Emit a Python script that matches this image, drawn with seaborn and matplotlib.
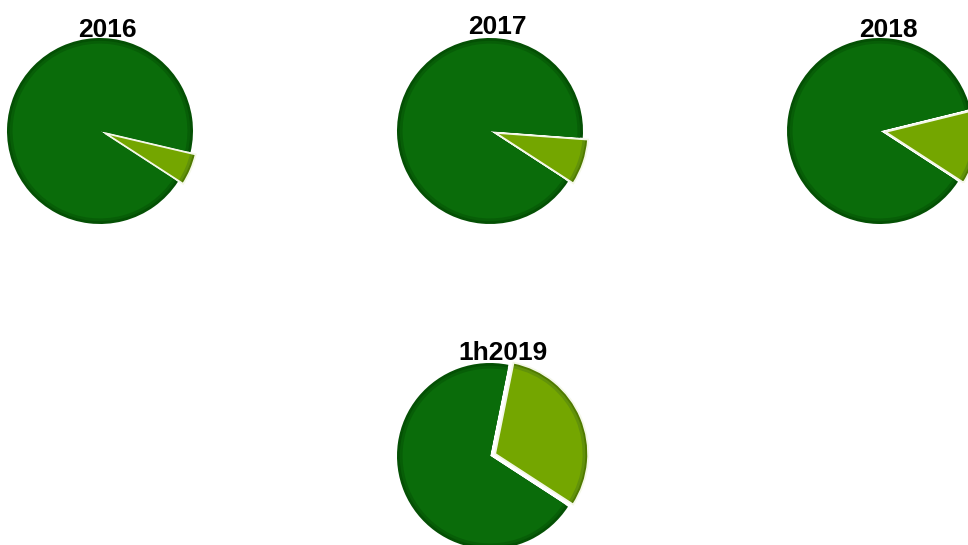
import matplotlib.pyplot as plt
import seaborn as sns

sns.set_theme(style="white")
plt.rcParams["font.family"] = ["Liberation Sans", "DejaVu Sans"]

# share of each period: [small segment, rest]
periods = ["2016", "2017", "2018", "1h2019"]
small_share = [5.5, 8.0, 13.0, 31.0]
rest_share = [94.5, 92.0, 87.0, 69.0]

colors = ["#74a600", "#0a6c0a"]
rim_colors = [["#4f7a00", "#045004"], ["#62920a", "#075e07"]]

# pie centres in pixels (x from left, y from top), radius in pixels
centres = [(100, 131), (490, 131), (880, 131), (490, 456)]
title_x = [107, 497, 888, 503]
title_y = [0.96, 0.99, 0.96, 0.98]
R = 93
W, H = 968, 545

fig = plt.figure(figsize=(W / 100, H / 100), dpi=100)

lim = 1.25
for i, name in enumerate(periods):
    cx, cy = centres[i]
    size = 2 * lim * R
    ax = fig.add_axes([(cx - size / 2) / W, 1 - (cy + size / 2) / H, size / W, size / H])
    vals = [small_share[i], rest_share[i]]
    explode = [0.06, 0]
    # soft bevel: darker rim layers under the main fill
    for r, cols in zip([1.0, 0.97], rim_colors):
        ax.pie(vals, colors=[cols[0], cols[1]], startangle=-33, explode=explode,
               radius=r, wedgeprops=dict(linewidth=0))
    ax.pie(vals, colors=colors, startangle=-33, explode=explode,
           radius=0.94, wedgeprops=dict(linewidth=0))
    # pale outline around the small segment only
    outline, _ = ax.pie(vals, colors=["none", "none"], startangle=-33, explode=explode,
                        radius=1.0, wedgeprops=dict(linewidth=1.3, edgecolor="#f4f8e8", fill=False))
    outline[1].set_visible(False)
    ax.set_xlim(-lim, lim)
    ax.set_ylim(-lim, lim)
    ax.set_aspect("equal")
    ax.axis("off")
    ax.text((title_x[i] - cx) / R, title_y[i], name, ha="center", va="bottom",
            fontsize=19, fontweight="bold", color="black")

plt.savefig("out.png", dpi=100)
